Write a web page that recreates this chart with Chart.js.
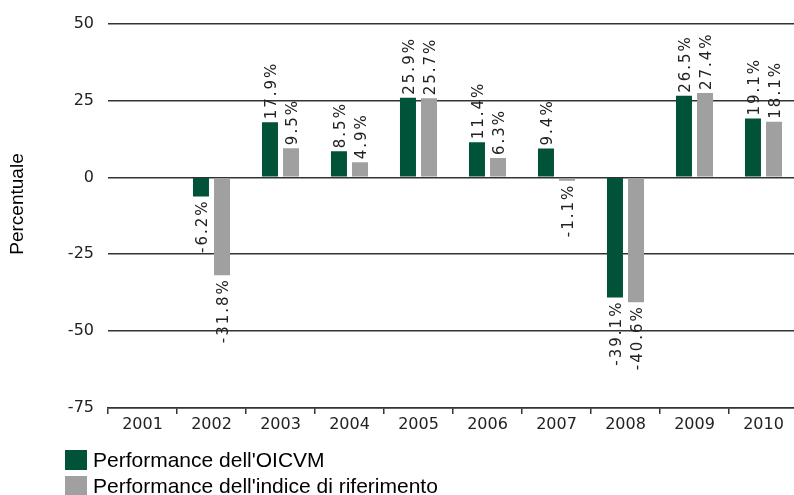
<!DOCTYPE html>
<html>
<head>
<meta charset="utf-8">
<script src="https://cdn.jsdelivr.net/npm/chart.js@4.4.1/dist/chart.umd.min.js"></script>
<style>
  html, body { margin: 0; padding: 0; background: #fff; overflow: hidden; }
  #wrap { position: relative; width: 798px; height: 495px; }
</style>
</head>
<body>
<div id="wrap"><canvas id="chart" width="798" height="495"></canvas></div>
<script>
// dati
const years = ['2001', '2002', '2003', '2004', '2005', '2006', '2007', '2008', '2009', '2010'];
const fundPerf = [null, -6.2, 17.9, 8.5, 25.9, 11.4, 9.4, -39.1, 26.5, 19.1];
const indexPerf = [null, -31.8, 9.5, 4.9, 25.7, 6.3, -1.1, -40.6, 27.4, 18.1];
const seriesNames = ["Performance dell'OICVM", "Performance dell'indice di riferimento"];
const yTitle = 'Percentuale';

const GREEN = '#005238';
const GREY = '#a0a0a0';

// etichette dei valori, titolo asse y e legenda
const extrasPlugin = {
    id: 'extras',
    afterDatasetsDraw(chart) {
        const ctx = chart.ctx;
        ctx.save();
        ctx.letterSpacing = '2px';
        ctx.font = '15px "DejaVu Sans"';
        ctx.fillStyle = '#222';
        ctx.textBaseline = 'middle';
        chart.data.datasets.forEach((ds, i) => {
            const meta = chart.getDatasetMeta(i);
            meta.data.forEach((bar, j) => {
                const v = ds.data[j];
                if (v === null) return;
                ctx.save();
                ctx.translate(bar.x + 2, v >= 0 ? bar.y - 3 : bar.y + 3);
                ctx.rotate(-Math.PI / 2);
                ctx.textAlign = v >= 0 ? 'left' : 'right';
                ctx.fillText(v.toFixed(1) + '%', 0, 0);
                ctx.restore();
            });
        });
        ctx.restore();
    },
    afterDraw(chart) {
        const ctx = chart.ctx;
        ctx.save();
        // titolo asse y
        ctx.fillStyle = '#000';
        ctx.font = '19px "Liberation Sans", Arial, sans-serif';
        ctx.textAlign = 'center';
        ctx.textBaseline = 'middle';
        ctx.save();
        ctx.translate(18, 204);
        ctx.rotate(-Math.PI / 2);
        ctx.fillText(yTitle, 0, 0);
        ctx.restore();
        // legenda
        ctx.textAlign = 'left';
        ctx.font = '21px "Liberation Sans", Arial, sans-serif';
        chart.data.datasets.forEach((ds, i) => {
            const y = 450 + i * 26;
            ctx.fillStyle = ds.backgroundColor;
            ctx.fillRect(65, y, 22, 20);
            ctx.fillStyle = '#000';
            ctx.fillText(ds.label, 93, y + 11);
        });
        ctx.restore();
    }
};

new Chart(document.getElementById('chart'), {
    type: 'bar',
    data: {
        labels: years,
        datasets: [
            { label: seriesNames[0], data: fundPerf, backgroundColor: GREEN },
            { label: seriesNames[1], data: indexPerf, backgroundColor: GREY }
        ]
    },
    options: {
        responsive: false,
        animation: false,
        layout: { padding: { top: 23, right: 0, left: 0, bottom: 0 } },
        categoryPercentage: 0.61,
        barPercentage: 0.76,
        plugins: {
            legend: { display: false },
            tooltip: { enabled: false }
        },
        scales: {
            x: {
                afterFit(scale) { scale.height = 87; },
                grid: {
                    offset: true,
                    drawOnChartArea: false,
                    drawTicks: true,
                    tickLength: 6,
                    color: '#333',
                    lineWidth: 1.5
                },
                border: { display: true, color: '#333', width: 1.5 },
                ticks: {
                    color: '#222',
                    font: { family: 'DejaVu Sans', size: 16 },
                    padding: 1,
                    maxRotation: 0
                }
            },
            y: {
                min: -75,
                max: 50,
                afterFit(scale) { scale.width = 108; },
                grid: {
                    drawTicks: false,
                    color: '#333',
                    lineWidth: 1.5
                },
                border: { display: false },
                ticks: {
                    stepSize: 25,
                    color: '#222',
                    font: { family: 'DejaVu Sans', size: 16 },
                    padding: 14
                }
            }
        }
    },
    plugins: [extrasPlugin]
});
</script>
</body>
</html>
